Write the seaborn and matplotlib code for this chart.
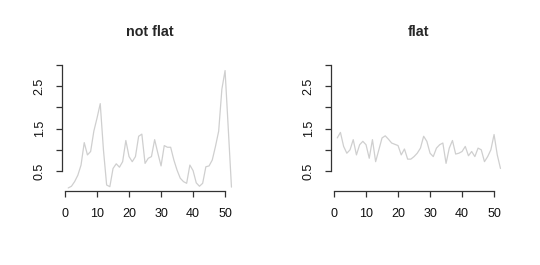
import numpy as np
import pandas as pd
import matplotlib
matplotlib.use("Agg")
import matplotlib.pyplot as plt
import seaborn as sns

sns.set_style("white")
plt.rcParams['font.family'] = ['Liberation Sans', 'DejaVu Sans']

idx = list(range(1, 53))
not_flat = [0.10, 0.14, 0.25, 0.40, 0.64, 1.17, 0.88, 0.96, 1.44, 1.75,
            2.09, 1.00, 0.17, 0.13, 0.56, 0.67, 0.59, 0.72, 1.22, 0.84,
            0.72, 0.84, 1.32, 1.37, 0.68, 0.80, 0.84, 1.24, 0.92, 0.62,
            1.10, 1.06, 1.06, 0.76, 0.52, 0.33, 0.25, 0.21, 0.64, 0.51,
            0.22, 0.14, 0.21, 0.60, 0.62, 0.76, 1.08, 1.44, 2.43, 2.87,
            1.50, 0.12]
flat = [1.28, 1.41, 1.08, 0.92, 1.00, 1.24, 0.88, 1.12, 1.20, 1.12,
        0.80, 1.24, 0.72, 1.00, 1.28, 1.33, 1.25, 1.16, 1.13, 1.10,
        0.88, 1.02, 0.78, 0.78, 0.84, 0.92, 1.04, 1.32, 1.20, 0.92,
        0.84, 1.04, 1.12, 1.16, 0.68, 1.04, 1.22, 0.90, 0.92, 0.96,
        1.08, 0.86, 0.96, 0.84, 1.04, 1.00, 0.72, 0.84, 1.00, 1.36,
        0.88, 0.56]
titles = ["not flat", "flat"]
x_ticks = [0, 10, 20, 30, 40, 50]
y_ticks = [0.5, 1.0, 1.5, 2.0, 2.5, 3.0]
y_labels = ["0.5", "", "1.5", "", "2.5", ""]

W, H = 540, 265
fig = plt.figure(figsize=(W / 100, H / 100), dpi=100)

def frac(l, r, t, b):
    return [l / W, 1 - b / H, (r - l) / W, (b - t) / H]

axes = [fig.add_axes(frac(61.7, 238.0, 64.2, 190.5)),
        fig.add_axes(frac(330.7, 507.0, 64.2, 190.5))]

for ax, series, title in zip(axes, [not_flat, flat], titles):
    df = pd.DataFrame({"x": idx, "y": series})
    sns.lineplot(data=df, x="x", y="y", ax=ax, color="#cfcfcf", lw=0.9)
    ax.set_xlim(-1.04, 54.04)
    ax.set_ylim(0.04, 3.02)
    ax.set_xlabel("")
    ax.set_ylabel("")
    ax.set_title(title, fontsize=10.3, fontweight="bold", pad=20)
    for s in ["top", "right"]:
        ax.spines[s].set_visible(False)
    for s in ["left", "bottom"]:
        ax.spines[s].set_color("#333333")
        ax.spines[s].set_linewidth(0.9)
    ax.spines["bottom"].set_bounds(0, 50)
    ax.spines["left"].set_bounds(0.5, 3.0)
    ax.set_xticks(x_ticks)
    ax.set_xticklabels([str(t) for t in x_ticks])
    ax.set_yticks(y_ticks)
    ax.set_yticklabels(y_labels, rotation=90, va="center")
    ax.tick_params(axis="both", direction="out", length=4.5, width=0.9,
                   color="#333333", labelsize=9, labelcolor="#111111")
    ax.tick_params(axis="x", pad=8, bottom=True)
    ax.tick_params(axis="y", pad=7, left=True)
    ax.grid(False)

fig.savefig("out.png", dpi=100, facecolor="white")
